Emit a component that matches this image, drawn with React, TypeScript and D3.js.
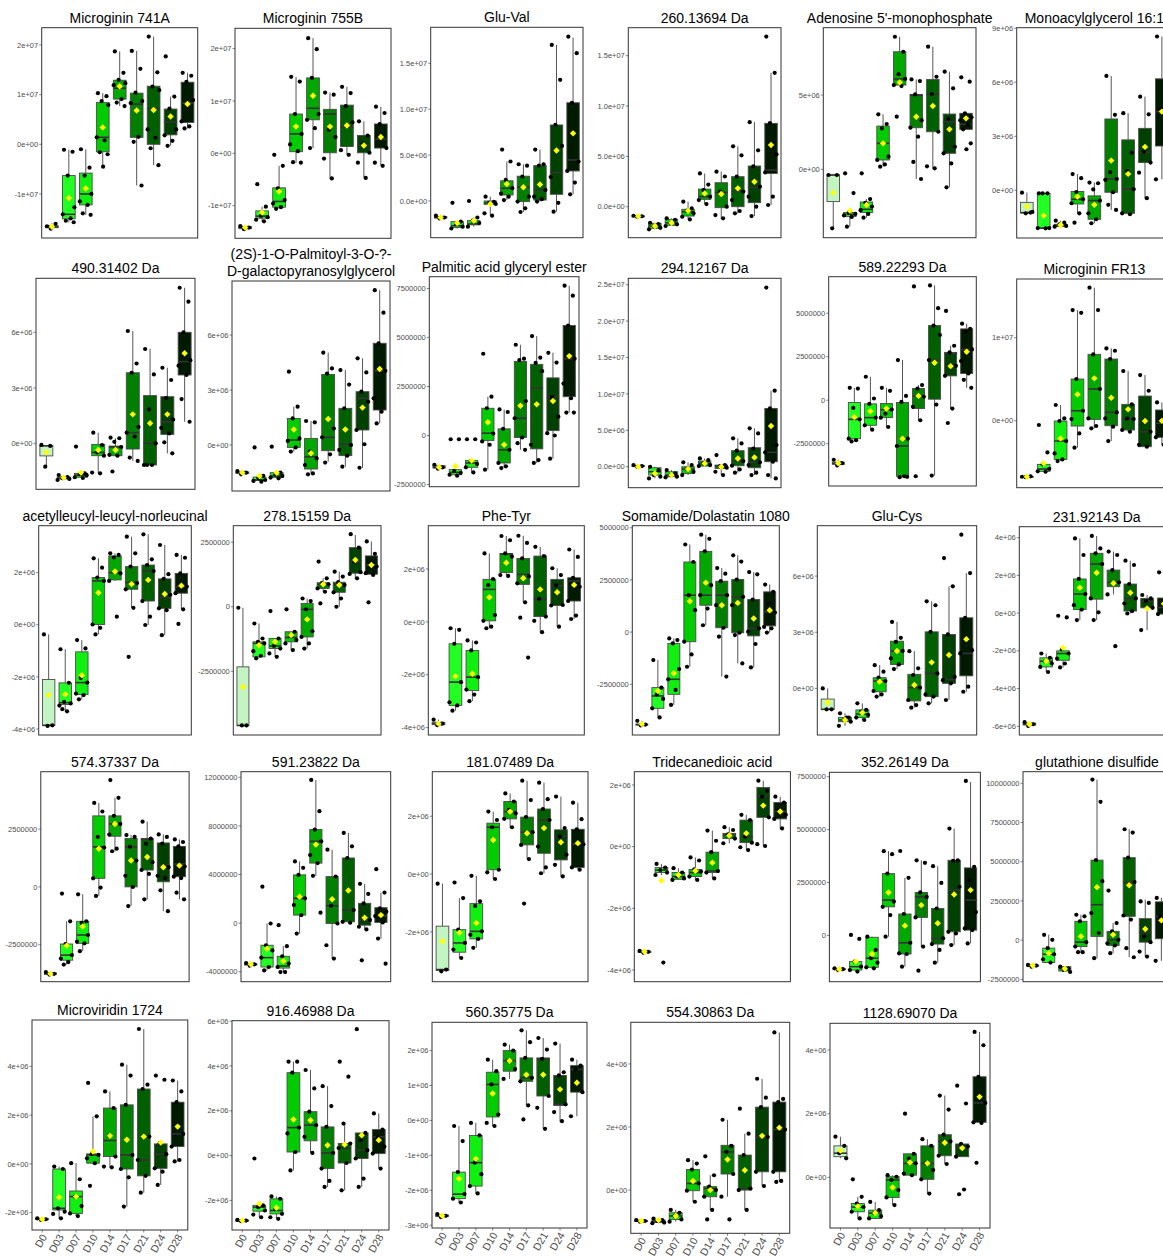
import React from "react";
import * as d3 from "d3";

const GROUPS = ["D0", "D03", "D07", "D10", "D14", "D17", "D21", "D24", "D28"];

const TITLES: string[][] = [
  ["Microginin 741A"], ["Microginin 755B"], ["Glu-Val"], ["260.13694 Da"], ["Adenosine 5'-monophosphate"], ["Monoacylglycerol 16:1"],
  ["490.31402 Da"], ["(2S)-1-O-Palmitoyl-3-O-?-", "D-galactopyranosylglycerol"], ["Palmitic acid glyceryl ester"], ["294.12167 Da"], ["589.22293 Da"], ["Microginin FR13"],
  ["acetylleucyl-leucyl-norleucinal"], ["278.15159 Da"], ["Phe-Tyr"], ["Somamide/Dolastatin 1080"], ["Glu-Cys"], ["231.92143 Da"],
  ["574.37337 Da"], ["591.23822 Da"], ["181.07489 Da"], ["Tridecanedioic acid"], ["352.26149 Da"], ["glutathione disulfide"],
  ["Microviridin 1724"], ["916.46988 Da"], ["560.35775 Da"], ["554.30863 Da"], ["1128.69070 Da"],
];

// y-axis domains (units of 1e6)
const YDOM: number[][] = [
  [-18.87, 23.48], [-16.24, 23.88], [-4.0, 18.92], [-3.08, 17.78], [-4.6, 9.53], [-2.65, 9.03],
  [-2.46, 8.91], [-2.51, 8.95], [-2.61, 8.1], [-2.88, 25.88], [-4.93, 7.1], [-8.07, 17.07],
  [-4.23, 3.8], [-4.97, 3.14], [-4.28, 3.64], [-4.93, 5.1], [-2.49, 8.69], [-6.46, 4.58],
  [-4.1, 4.98], [-4.82, 12.46], [-3.72, 3.54], [-4.38, 2.43], [-2.19, 7.71], [-2.65, 10.74],
  [-2.71, 5.9], [-3.32, 6.02], [-3.08, 2.81], [-1.37, 5.32], [-1.59, 4.84],
];

// y ticks (units of 1e6)
const YTICKS: number[][] = [
  [20, 10, 0, -10], [20, 10, 0, -10], [15, 10, 5, 0], [15, 10, 5, 0], [5, 0], [9, 6, 3, 0],
  [6, 3, 0], [6, 3, 0], [7.5, 5, 2.5, 0, -2.5], [25, 20, 15, 10, 5, 0], [5, 2.5, 0, -2.5], [10, 0],
  [2, 0, -2, -4], [2.5, 0, -2.5], [2, 0, -2, -4], [5, 2.5, 0, -2.5], [6, 3, 0], [4, 2, 0, -2, -4, -6],
  [2.5, 0, -2.5], [12, 8, 4, 0, -4], [2, 0, -2], [2, 0, -2, -4], [7.5, 5, 2.5, 0], [10, 7.5, 5, 2.5, 0, -2.5],
  [4, 2, 0, -2], [6, 4, 2, 0, -2], [2, 1, 0, -1, -2, -3], [4, 2, 0], [4, 2, 0],
];
const YFMT = [
  "e0", "e0", "e1", "e1", "e0", "e0",
  "e0", "e0", "plain", "e1", "plain", "e0",
  "e0", "plain", "e0", "plain", "e0", "e0",
  "plain", "plain", "e0", "e0", "plain", "plain",
  "e0", "e0", "e0", "e0", "e0",
];

// box stats per group: [lowWhisker, q1, median, q3, highWhisker, mean]
const S01 = [[-17.0,-16.8,-16.6,-16.4,-15.9,-16.6],[-15.7,-15.0,-14.1,-6.3,-1.1,-10.8],[-14.2,-12.2,-10.0,-5.8,-1.0,-8.9],[-4.5,-1.5,1.4,8.4,10.3,3.4],[7.7,9.1,11.3,12.9,18.7,11.7],[-8.3,1.4,8.1,10.3,18.8,6.8],[-4.2,0.0,7.2,11.7,21.7,6.9],[-0.3,1.9,4.5,7.1,9.6,5.6],[3.2,4.4,8.3,12.5,14.4,8.1]];
const P01 = [[-16.5,-16.0,-17.0],[-1.1,-1.5,-6.3,-12.7,-14.1,-14.9,-15.4,-15.7],[-1.0,-4.7,-6.3,-10.0,-11.5,-12.2,-13.9,-14.2],[10.3,9.7,8.7,7.9,1.4,0.8,-1.6,-2.0,-4.5],[18.7,14.4,13.0,12.3,11.9,9.1,8.4,7.7],[18.8,15.2,10.4,8.7,8.3,1.5,0.5,-8.3],[21.7,14.5,11.6,10.9,3.0,1.3,-0.8,-4.2],[17.7,9.6,7.2,3.0,1.8,0.7,-0.3],[14.4,13.8,12.6,8.9,4.6,3.6,3.2]];

const S02 = [[-14.5,-14.4,-14.2,-14.0,-13.9,-14.2],[-13.0,-12.4,-12.0,-11.0,-10.2,-11.3],[-10.6,-10.3,-9.2,-6.6,-2.4,-7.3],[-1.8,0.3,3.7,7.5,14.6,5.1],[1.0,6.4,8.6,14.4,22.0,11.0],[-4.8,0.1,7.5,8.4,11.6,5.1],[-0.3,1.3,5.0,9.2,12.7,5.3],[-4.7,0.1,1.5,3.4,6.1,1.5],[-2.4,1.0,2.7,5.6,8.9,3.1]];
const P02 = [[-13.9,-14.2,-14.5],[-5.9,-10.2,-12.0,-12.2,-12.7,-13.0],[-0.3,-2.4,-6.7,-8.9,-9.6,-10.3,-10.6],[14.6,13.7,7.5,3.7,1.7,0.4,-1.7,-1.8],[22.0,19.9,14.4,7.5,6.4,4.8,1.0],[11.6,11.2,4.5,3.1,-1.0,-4.8],[12.7,11.5,9.0,5.9,0.6,-0.3],[6.1,3.4,1.8,0.1,-1.8,-4.7],[8.9,7.7,5.6,1.0,-1.8,-2.4]];

const S03 = [[-1.9,-1.85,-1.8,-1.7,-1.6,-1.8],[-3.0,-2.9,-2.7,-2.25,-2.25,-2.4],[-2.8,-2.6,-2.5,-2.14,-1.8,-2.14],[-1.6,-0.36,-0.25,0.0,0.47,-0.33],[0.1,0.65,1.38,2.2,4.3,1.85],[-1.2,-0.07,1.5,2.7,4.0,1.5],[-0.07,0.1,1.2,3.85,5.6,1.8],[-1.16,0.73,3.1,8.28,17.0,5.5],[0.73,3.27,4.47,10.7,17.8,7.37]];
const P03 = [[-1.6,-1.8,-1.9],[-0.2,-2.25,-2.5,-2.8,-3.0],[0.0,-1.8,-2.14,-2.4,-2.8],[0.47,-0.1,-0.2,-0.33,-1.34,-1.6],[5.6,4.3,2.3,1.4,0.8,0.47,0.1],[4.0,3.85,2.65,0.47,-0.07,-0.8,-1.2],[5.6,4.0,3.85,1.2,0.47,0.2,-0.07],[17.0,13.2,8.3,6.0,2.6,-0.2,-1.16],[17.9,16.1,10.7,4.3,3.27,2.0,0.73]];

const S04 = [[-1.0,-0.97,-0.95,-0.92,-0.9,-0.95],[-2.25,-2.15,-1.92,-1.66,-1.6,-1.92],[-1.92,-1.85,-1.6,-1.26,-1.16,-1.6],[-1.26,-0.93,-0.5,-0.26,0.5,-0.4],[0.26,0.73,1.0,1.75,3.3,1.32],[-1.16,-0.1,1.4,2.38,3.48,1.26],[-0.66,0.0,1.5,2.98,6.0,1.82],[-0.93,0.4,1.92,4.04,8.4,2.48],[0.17,3.3,3.64,8.28,13.3,6.13]];
const P04 = [[-0.9,-0.95,-1.0],[-1.6,-1.72,-1.92,-2.1,-2.25],[-1.16,-1.3,-1.6,-1.75,-1.92],[0.5,-0.17,-0.4,-0.66,-1.0,-1.26],[3.3,2.2,1.65,1.0,0.66,0.26],[3.48,3.0,1.5,0.0,-0.83,-1.16],[6.0,5.1,2.98,1.5,0.66,-0.43,-0.66],[8.4,5.6,4.0,1.99,1.0,0.0,-0.93],[16.9,13.3,8.3,5.2,3.4,1.0,0.17]];

const S05 = [[-3.97,-2.17,-0.38,-0.38,-0.38,-1.57],[-3.86,-3.18,-3.03,-2.9,-2.9,-2.78],[-3.25,-2.9,-2.69,-2.2,-2.0,-2.4],[0.18,0.63,1.75,2.91,3.7,1.75],[5.67,5.67,6.08,7.91,8.92,5.85],[-0.65,2.8,4.98,5.04,6.05,3.54],[0.07,2.53,5.07,6.05,8.25,4.26],[-1.21,1.08,3.2,3.72,6.57,2.69],[2.69,2.69,3.03,3.77,3.77,3.43]];
const P05 = [[-0.38,-0.38,-3.97],[-0.27,-1.6,-2.9,-3.0,-3.1,-3.2,-3.86],[-0.27,-2.0,-2.25,-2.5,-2.75,-3.0,-3.25],[3.7,3.05,2.75,0.85,0.63,0.33,0.18],[8.92,7.91,6.4,6.08,5.67,5.6,3.54],[6.05,5.94,5.04,3.3,2.8,2.2,0.5,-0.65],[8.25,6.23,5.07,2.53,0.2,0.07],[6.57,5.45,3.4,1.52,1.08,0.4,-1.21],[6.19,5.9,3.77,3.5,3.3,3.0,2.69,1.75,1.35]];

const S06 = [[-1.28,-1.26,-1.24,-0.67,-0.13,-0.9],[-2.11,-2.11,-2.1,-0.17,-0.17,-1.41],[-2.02,-2.0,-1.96,-1.89,-1.69,-1.93],[-1.28,-0.76,-0.5,-0.07,0.9,-0.35],[-1.83,-1.61,-0.57,-0.31,0.43,-0.81],[-1.09,-0.11,0.63,3.96,6.35,1.65],[-1.28,-1.28,0.06,2.8,4.28,0.91],[-0.44,1.54,2.11,3.44,5.2,2.41],[0.61,2.46,4.37,6.19,8.54,4.37]];
const P06 = [[-0.13,-1.24,-1.28,-1.2],[-0.17,-0.17,-0.17,-2.1,-2.1,-2.11],[-1.69,-1.8,-1.89,-1.98,-2.02],[0.9,0.67,-0.1,-0.5,-0.72,-1.28,-1.8],[0.43,0.39,0.05,-0.57,-1.28,-1.61,-1.83],[6.35,4.19,1.0,0.63,0.58,-0.11,-0.81,-1.09],[4.28,2.09,1.07,0.06,-1.28,-1.33],[5.2,4.22,2.15,1.54,0.98,-0.44],[8.54,6.2,4.5,2.46,0.61]];

const S07 = [[-1.24,-0.66,-0.12,-0.1,-0.07,-0.47],[-1.96,-1.9,-1.86,-1.8,-1.69,-1.84],[-1.85,-1.81,-1.7,-1.6,-1.6,-1.56],[-1.6,-0.65,-0.47,-0.04,0.59,-0.34],[-0.65,-0.65,-0.18,-0.13,0.29,-0.34],[-0.93,-0.29,0.59,3.82,6.07,1.58],[-1.15,-1.15,0.02,2.59,5.1,1.1],[-0.52,0.5,1.18,2.53,4.09,1.58],[1.18,3.7,4.42,6.0,8.4,4.87]];
const P07 = [[-0.07,-0.12,-1.24],[-1.69,-1.8,-1.86,-1.9,-1.96],[-0.16,-1.6,-1.65,-1.7,-1.81,-1.85],[0.59,-0.08,-0.47,-0.65,-1.56,-1.6],[0.32,0.29,0.1,-0.18,-0.6,-0.65,-1.5],[6.07,4.32,3.82,0.9,0.59,0.38,-0.75,-0.93],[5.1,3.73,1.85,0.02,-1.15,-1.15,-1.15],[4.09,3.43,2.45,1.3,0.85,0.55,0.07,-0.52],[8.4,7.65,6.0,4.5,4.2,3.7,2.4,1.18]];

const S08 = [[-1.6,-1.55,-1.51,-1.47,-1.42,-1.51],[-1.96,-1.93,-1.91,-1.75,-1.69,-1.69],[-1.8,-1.78,-1.69,-1.51,-1.51,-1.51],[-0.36,-0.13,0.27,1.45,2.09,0.85],[-1.55,-1.31,-0.64,0.36,1.31,-0.45],[-0.91,-0.31,0.42,3.85,5.04,1.42],[-1.18,-0.58,0.04,2.0,4.09,0.85],[-1.24,0.82,2.55,2.91,4.73,2.04],[1.18,1.91,4.05,5.55,8.45,4.15]];
const P08 = [[-1.42,-1.51,-1.6],[-0.13,-1.69,-1.8,-1.91,-1.96,-2.0],[-0.09,-1.51,-1.6,-1.69,-1.78,-1.82],[4.0,2.09,1.45,0.36,0.22,-0.13,-0.36],[1.31,1.24,-0.36,-0.73,-1.09,-1.55,-1.6],[5.04,4.18,3.9,0.9,0.42,-0.51,-0.96],[4.09,3.3,2.0,0.0,-0.27,-0.58,-1.18],[4.73,3.96,2.91,2.36,0.82,0.04,-1.24],[8.45,7.22,5.55,4.05,2.55,1.82,1.18]];

const S09 = [[-1.69,-1.66,-1.62,-1.54,-1.49,-1.62],[-2.05,-2.0,-1.88,-1.74,-1.74,-1.57],[-1.88,-1.62,-1.4,-1.27,-1.27,-1.28],[-1.74,-0.25,0.12,1.39,1.98,0.68],[-1.66,-1.4,-0.73,0.34,1.33,-0.47],[-0.73,-0.1,0.88,3.78,4.63,1.52],[-1.4,-0.68,2.43,3.63,5.07,1.59],[-1.18,0.25,1.96,2.94,4.22,1.76],[1.17,1.98,3.92,5.61,7.64,4.05]];
const P09 = [[-1.49,-1.62,-1.69],[-0.19,-0.19,-1.8,-1.9,-2.0,-2.05],[-0.19,-0.19,-1.3,-1.45,-1.62,-1.88],[4.17,1.98,1.39,0.1,-0.3,-0.47,-1.74],[1.33,1.2,0.34,-0.73,-1.4,-1.57,-1.66],[4.63,3.92,3.85,1.76,0.88,-0.1,-0.39,-0.73],[5.07,3.97,3.7,3.28,-0.47,-1.25,-1.4],[4.22,3.72,1.96,0.96,0.12,0.0,-1.18],[7.64,7.13,5.61,3.92,2.65,1.9,1.17,1.17]];

const S10 = [[0.0,0.05,0.09,0.16,0.23,0.0],[-1.6,-1.14,-0.69,-0.14,0.0,-0.92],[-1.46,-1.37,-1.14,-0.69,-0.46,-1.14],[-1.14,-0.92,-0.32,0.0,0.6,-0.32],[0.09,0.09,0.46,0.78,1.14,0.46],[-1.14,-0.23,0.09,0.23,0.23,0.0],[-0.82,0.14,0.78,2.2,3.9,1.14],[-1.14,-0.14,0.6,2.61,5.27,1.28],[-1.6,0.69,1.97,8.01,10.44,5.59]];
const P10 = [[0.23,0.09,0.0],[0.0,-0.46,-1.14,-1.37,-1.6],[-0.46,-0.92,-1.14,-1.37,-1.46],[0.6,0.23,-0.32,-0.69,-1.14],[1.14,0.92,0.46,0.23,0.09],[1.6,0.23,0.09,-0.14,-0.69,-1.14],[3.9,3.2,2.2,0.78,0.14,-0.37,-0.82],[5.27,4.58,2.5,0.6,0.23,-0.82,-1.14],[24.6,10.44,8.01,2.98,1.97,0.69,-1.14,-1.6]];

const S11 = [[-3.75,-3.69,-3.62,-3.56,-3.42,-3.62],[-2.37,-2.21,-1.1,-0.13,0.71,-0.96],[-1.69,-1.44,-1.0,-0.21,1.35,-0.63],[-1.54,-1.0,-0.54,-0.19,0.71,-0.48],[-4.42,-4.37,-2.63,-0.13,2.31,-2.21],[-1.15,-0.48,0.25,0.67,0.87,0.25],[-4.33,0.06,2.31,4.29,6.6,2.15],[-0.48,1.4,2.69,2.75,3.13,1.96],[0.71,1.54,2.92,4.1,4.4,2.79]];
const P11 = [[-3.42,-3.62,-3.75],[0.71,0.67,-0.44,-1.1,-2.21,-2.3,-2.37],[1.35,0.1,-0.21,-1.0,-1.44,-1.69],[0.71,0.54,-0.77,-0.54,-1.0,-1.54],[2.31,0.25,-0.1,-2.21,-2.63,-4.37,-4.42,-4.4],[6.54,0.87,0.67,0.2,-0.38,-1.15,-4.37],[6.6,5.29,4.29,3.75,2.31,-0.25,-4.33],[5.13,3.13,2.75,1.98,1.4,-0.48,-1.31],[4.4,4.1,3.94,2.92,2.25,1.54,1.17,0.71]];

const S12 = [[-6.8,-6.78,-6.75,-6.72,-6.7,-6.75],[-6.14,-6.1,-5.82,-5.26,-5.26,-5.14],[-4.86,-4.66,-2.45,-0.04,1.89,-2.13],[-3.25,-0.64,1.2,5.02,13.33,3.17],[-0.92,0.16,3.82,7.99,16.02,5.1],[-2.45,-0.6,1.0,7.43,8.71,2.77],[-1.33,-1.12,0.2,1.97,5.98,1.37],[-3.13,-3.13,-1.33,2.97,5.5,-0.04],[-2.9,-2.0,-0.3,1.29,2.2,0.0]];
const P12 = [[-6.75,-6.7,-6.8],[-0.52,-3.82,-5.26,-5.8,-6.1,-6.14],[1.89,0.28,-0.04,-2.45,-3.94,-4.66,-4.86],[13.33,13.0,5.02,1.2,0.2,-1.53,-3.25],[16.02,13.33,7.99,3.82,0.28,-0.64,-0.92],[8.71,8.43,7.43,1.0,0.28,-0.72,-2.45],[5.98,1.97,0.28,0.2,-1.12,-1.33],[5.5,3.61,0.0,-1.33,-2.9,-3.13],[2.2,1.29,0.2,-0.44,-2.0,-2.9]];

const S13 = [[-3.88,-3.86,-3.86,-2.1,-0.37,-2.7],[-3.32,-3.06,-2.99,-2.23,-0.94,-2.67],[-2.86,-2.68,-2.22,-1.04,-0.59,-1.94],[-0.37,0.01,1.68,1.81,2.55,1.23],[1.68,1.72,2.0,2.64,2.74,2.04],[0.65,1.36,1.62,2.23,3.38,1.56],[-0.01,0.91,2.06,2.29,3.47,1.72],[-0.4,0.63,1.05,1.76,3.06,1.18],[0.59,1.21,1.46,1.97,2.68,1.5]];
const P13 = [[-0.37,-3.86,-3.88],[-0.94,-2.23,-2.96,-3.02,-3.1,-3.32,-3.24],[-0.59,-0.91,-2.04,-2.22,-2.64,-2.7,-2.86],[2.55,2.19,1.81,1.68,0.01,-0.12,-0.37],[2.74,2.68,2.58,1.97,1.68,0.31],[3.38,2.74,2.23,1.6,1.36,0.65,-1.23],[3.47,2.51,2.29,2.06,0.91,0.31,-0.01],[3.06,1.94,1.76,1.15,0.63,0.56,-0.4],[2.68,2.57,1.97,1.46,1.21,0.59,0.03]];

const S14 = [[-4.6,-4.6,-4.6,-2.33,-0.04,-3.11],[-2.0,-1.94,-1.42,-1.36,-0.65,-1.49],[-1.94,-1.62,-1.52,-1.23,-1.23,-1.36],[-1.68,-1.36,-1.19,-0.97,-0.97,-1.1],[-1.62,-1.17,-0.1,0.13,0.32,-0.49],[0.58,0.71,0.87,0.93,1.1,0.87],[0.0,0.56,0.87,0.95,1.36,0.84],[1.1,1.3,1.75,2.29,2.78,1.81],[1.23,1.26,1.62,1.97,2.53,1.62]];
const P14 = [[-0.04,-4.6,-4.6],[-0.65,-1.23,-1.36,-1.42,-1.72,-1.9,-2.0],[-0.17,-1.23,-1.52,-1.62,-1.81,-1.94],[-0.1,-0.97,-1.1,-1.29,-1.42,-1.68],[0.32,0.22,-0.1,-0.95,-1.17,-1.42,-1.62],[1.75,1.1,0.93,0.87,0.71,0.58,0.13],[1.36,1.17,0.95,0.84,0.56,0.32,0.0],[2.81,2.29,1.75,1.34,1.27,1.1],[2.53,2.05,1.69,1.56,1.3,1.23,0.17]];

const S15 = [[-3.91,-3.89,-3.85,-3.8,-3.7,-3.85],[-3.36,-3.16,-2.28,-0.83,-0.24,-2.06],[-3.0,-2.6,-2.09,-1.08,-0.7,-1.96],[-0.24,0.04,1.23,1.61,2.59,0.93],[1.77,1.87,2.57,2.59,3.25,2.24],[0.74,1.42,1.8,2.4,3.26,1.65],[-0.39,0.2,0.87,2.49,2.84,1.23],[-0.18,0.62,1.37,1.61,2.03,1.12],[0.11,0.79,1.55,1.67,2.74,1.4]];
const P15 = [[-3.7,-3.85,-3.91],[-0.24,-0.3,-0.83,-2.28,-3.04,-3.16,-3.36],[-0.7,-0.78,-1.08,-2.09,-2.56,-2.75,-3.0],[2.59,1.62,1.39,0.26,0.04,-0.18,-0.24],[3.25,3.09,2.59,2.47,1.77,1.74],[3.26,2.99,2.4,1.72,1.46,0.74,0.16,-1.35],[2.84,2.49,0.87,0.2,0.04,-0.39],[2.03,1.77,1.39,0.64,0.62,-0.18],[2.74,2.46,1.67,1.33,0.79,0.24,0.11]];

const S16 = [[-4.47,-4.45,-4.43,-4.41,-4.25,-4.41],[-4.09,-3.65,-3.06,-2.66,-1.34,-2.82],[-3.49,-2.98,-2.26,-0.54,-0.3,-1.97],[-1.66,-0.46,1.77,3.36,4.2,1.48],[0.33,1.29,1.77,3.87,4.67,2.37],[-2.13,0.21,1.77,2.44,3.07,1.29],[-1.5,-0.03,1.69,2.52,3.68,1.4],[-1.69,-0.18,0.18,1.56,2.88,0.65],[-0.02,0.3,0.97,1.93,2.28,1.05]];
const P16 = [[-4.25,-4.43,-4.47],[-1.34,-2.66,-2.98,-3.2,-3.65,-4.09],[-0.3,-0.38,-0.54,-1.77,-2.26,-2.77,-3.49],[4.2,3.36,1.77,1.05,-0.46,-1.07,-1.66],[4.67,4.47,3.87,2.25,1.77,1.13,0.33],[3.07,2.8,2.44,1.77,1.29,0.21,-0.22,-2.13],[3.68,3.38,2.52,1.69,1.29,-0.03,-0.14,-1.5],[2.88,2.77,1.56,0.18,0.02,-0.57,-1.69],[2.28,1.93,1.37,0.94,0.25,0.18,-0.02]];

const S17 = [[-1.12,-1.12,-1.12,-0.57,0.0,-0.75],[-2.0,-1.78,-1.69,-1.56,-1.33,-1.69],[-1.69,-1.56,-1.37,-1.15,-0.8,-1.3],[-0.44,-0.18,0.39,0.57,1.24,0.36],[1.03,1.28,2.0,2.52,3.55,2.0],[-1.03,-0.67,0.04,0.75,1.99,0.18],[-0.8,-0.44,0.8,3.02,4.65,1.39],[-0.62,0.27,0.48,2.88,5.45,1.78],[-0.18,0.67,1.87,3.77,6.16,2.63]];
const P17 = [[0.0,-1.12,-1.12],[-1.33,-1.56,-1.69,-1.78,-2.0,-1.56],[-0.8,-1.15,-1.24,-1.42,-1.56,-1.69],[1.24,0.89,0.57,0.39,-0.14,-0.32,-0.44],[3.55,2.7,2.48,2.0,1.6,1.28,1.03],[1.99,1.07,0.71,0.04,-0.62,-0.89,-1.03],[4.65,4.44,3.02,0.8,-0.32,-0.44,-0.8],[6.96,5.45,2.88,0.62,0.44,0.27,-0.62],[8.21,6.16,3.77,2.04,1.87,0.09,-0.18]];

const S18 = [[-5.98,-5.93,-5.89,-5.83,-5.77,-5.89],[-3.12,-2.85,-2.55,-2.37,-2.14,-2.55],[-2.88,-2.5,-2.14,-2.0,-1.91,-1.84],[-0.37,0.19,1.01,1.81,3.96,1.35],[-0.37,0.74,2.6,3.17,4.09,2.14],[0.99,1.4,1.63,2.28,3.26,1.58],[-0.02,0.11,0.78,1.54,2.78,1.08],[-0.9,0.28,0.64,0.78,0.96,0.25],[-0.16,-0.05,0.3,0.8,2.16,0.5]];
const P18 = [[-5.77,-5.89,-5.98],[-2.14,-2.37,-2.55,-2.67,-2.85,-3.12],[-0.14,-0.23,-1.91,-2.14,-2.41,-2.67,-2.88],[3.96,3.08,1.81,1.01,0.42,0.19,-0.37],[4.09,3.43,3.17,2.6,0.78,0.04,-0.37],[3.26,3.08,2.28,1.63,0.99,-1.75],[2.78,2.55,1.54,0.78,0.51,0.11,-0.02],[0.96,0.78,0.64,0.28,-0.9],[2.16,0.8,0.5,0.2,-0.05,-0.16]];

const S19 = [[-3.79,-3.78,-3.76,-3.72,-3.68,-3.76],[-3.36,-3.17,-2.95,-2.47,-1.49,-2.54],[-2.78,-2.44,-2.08,-1.49,-0.32,-1.71],[-0.39,0.37,1.73,3.07,3.63,1.65],[1.54,2.19,2.72,3.07,3.85,2.72],[-0.83,0.0,1.73,2.09,2.24,1.14],[-0.54,0.73,2.06,2.09,2.82,1.29],[-1.05,0.22,0.92,1.9,2.27,0.85],[-0.54,0.44,0.99,1.75,2.05,0.92]];
const P19 = [[-3.68,-3.76,-3.79],[-0.29,-1.49,-2.47,-2.95,-3.1,-3.25,-3.36],[-0.32,-1.49,-1.56,-2.08,-2.37,-2.44,-2.78],[3.63,3.26,2.16,1.7,0.37,-0.03,-0.39],[4.62,3.85,3.07,2.72,2.26,1.65,1.54],[2.24,2.16,1.73,1.14,0.48,0.0,-0.83],[2.82,2.09,1.87,1.07,0.73,0.56,-0.54],[2.27,2.16,1.87,0.85,0.48,0.38,-0.15,-1.05],[2.05,1.94,1.75,0.88,0.44,0.38,-0.25,-0.54]];

const S20 = [[-3.5,-3.45,-3.39,-3.34,-3.28,-3.39],[-3.89,-3.61,-2.84,-1.82,-0.03,-2.1],[-4.03,-3.7,-3.53,-2.73,-1.9,-3.12],[-0.86,0.66,2.04,3.97,5.08,2.18],[3.89,4.94,6.73,7.7,11.78,6.46],[-2.92,-0.03,1.43,3.83,6.04,1.96],[0.03,0.11,1.08,5.36,7.42,2.68],[-0.52,-0.17,0.25,1.63,3.23,0.44],[-1.27,0.06,0.58,1.27,2.51,0.66]];
const P20 = [[-3.28,-3.39,-3.5],[3.0,-0.03,-1.82,-2.25,-2.84,-3.61,-3.89],[-0.17,-1.9,-2.73,-3.33,-3.61,-4.03,-4.03],[5.08,4.55,3.97,2.04,1.49,0.66,-0.86],[11.78,9.21,7.7,6.73,5.6,4.94,3.89,0.86],[6.04,3.83,1.43,-0.03,-1.82,-2.92],[7.42,6.32,5.36,1.08,0.11,0.03],[3.23,2.4,1.63,0.25,-0.3,-0.52,-3.06],[4.44,2.51,1.22,0.94,0.58,0.06,-1.27,-3.34]];

const S21 = [[-3.36,-3.33,-3.3,-1.8,-0.33,-2.32],[-2.9,-2.7,-2.38,-1.92,-0.83,-2.03],[-2.55,-2.24,-1.98,-1.02,-0.06,-1.69],[-0.17,0.15,1.62,1.76,2.16,1.18],[1.62,1.91,2.16,2.51,2.79,2.16],[0.52,1.01,1.45,1.97,3.23,1.41],[0.03,0.72,1.87,2.25,3.16,1.59],[-0.08,0.49,1.3,1.53,2.68,1.1],[0.15,0.23,1.03,1.55,2.47,1.07]];
const P21 = [[-0.33,-3.3,-3.36],[-0.29,-0.83,-1.92,-2.38,-2.61,-2.9],[-0.06,-0.94,-1.1,-1.98,-2.1,-2.24,-2.55],[2.16,1.87,1.62,0.15,0.06,-0.17],[2.79,2.51,2.22,2.1,1.91,1.62],[3.23,2.56,1.97,1.45,1.01,0.52,-1.02],[3.16,2.59,2.25,1.87,0.95,0.23,0.03],[2.68,1.59,1.3,0.67,0.32,-0.08],[2.47,1.9,1.55,1.03,0.23,0.15]];

const S22 = [[-3.44,-3.43,-3.41,-3.39,-3.38,-3.41],[-0.92,-0.84,-0.76,-0.68,-0.56,-1.1],[-1.08,-1.06,-0.97,-0.84,-0.7,-0.92],[-1.08,-0.97,-0.84,-0.74,-0.35,-0.78],[-1.03,-0.84,-0.79,-0.18,0.52,-0.52],[0.11,0.26,0.38,0.43,0.63,0.36],[-0.11,0.13,0.32,0.86,1.03,0.43],[0.02,0.95,1.64,1.92,2.14,1.33],[0.59,0.9,1.14,1.43,1.62,1.14]];
const P22 = [[-3.38,-3.41,-3.44],[-0.56,-0.68,-0.76,-0.84,-0.92,-3.76],[-0.7,-0.84,-0.97,-1.03,-1.08],[-0.35,-0.45,-0.74,-0.81,-0.97,-1.08],[0.52,0.19,-0.18,-0.79,-0.84,-1.03],[0.63,0.54,0.4,0.26,0.11],[1.03,0.86,0.32,0.13,-0.02,-0.11],[2.14,1.81,1.62,0.95,0.08,0.02],[1.62,1.43,1.19,1.03,0.9,0.59]];

const S23 = [[-1.64,-1.62,-1.6,-1.58,-1.56,-1.6],[-1.71,-1.64,-1.48,-1.24,-1.24,-1.24],[-1.56,-1.51,-1.08,-0.09,-0.06,-0.88],[-0.06,1.35,1.67,2.92,3.98,2.03],[-1.48,-0.88,-0.35,1.01,2.72,0.46],[-0.53,0.85,1.82,2.03,3.55,1.43],[-1.29,-0.41,-0.14,1.27,3.27,0.57],[-0.46,0.17,2.14,3.55,5.05,1.93],[-0.38,0.25,1.67,3.19,7.25,2.14]];
const P23 = [[-1.56,-1.6,-1.64],[0.02,-0.17,-1.24,-1.48,-1.64,-1.71],[-0.06,-0.69,-1.08,-1.29,-1.51,-1.56],[3.98,3.84,2.92,1.6,1.35,0.96,-0.06],[3.99,2.72,1.01,-0.35,-0.85,-0.88,-1.48],[3.55,3.43,2.03,1.82,0.85,-0.53,-1.67],[3.27,2.48,1.27,-0.14,-0.41,-0.69,-1.29],[5.05,3.55,3.52,2.3,0.17,0.09,-0.46],[7.3,3.24,2.6,1.1,0.33,0.25,-0.38]];

const S24 = [[-1.69,-1.66,-1.62,-1.6,-1.58,-1.62],[-1.43,-1.43,-0.9,-0.51,0.34,-0.83],[-2.03,-1.97,-1.82,-1.69,-1.69,-1.82],[-0.77,-0.41,-0.13,1.2,1.62,0.24],[-1.15,0.24,2.26,5.1,10.24,3.38],[-0.83,-0.34,0.02,0.56,1.09,0.34],[-1.09,1.52,3.7,5.26,7.07,3.5],[-1.05,-0.13,0.49,1.37,2.59,0.71],[-1.32,0.09,1.52,2.44,2.69,1.26]];
const P24 = [[-1.58,-1.62,-1.69],[0.34,0.02,-0.51,-0.9,-1.22,-1.43],[-1.69,-1.82,-1.9,-2.03],[1.62,1.52,1.2,-0.13,-0.41,-0.77,-0.77],[10.24,8.82,5.1,3.76,1.73,0.45,-1.15],[3.16,1.09,0.56,0.02,-0.2,-0.34,-0.83],[7.07,6.86,5.26,3.7,1.57,1.31,-0.51,-1.09],[2.47,2.37,0.24,-0.13,-0.73,-1.05],[2.69,2.44,1.52,0.09,-1.32]];

const S25 = [[-2.3,-2.28,-2.27,-2.25,-2.23,-2.27],[-2.23,-1.89,-1.82,-0.21,-0.11,-1.37],[-2.14,-2.03,-1.34,-1.11,0.03,-1.34],[0.03,0.03,0.37,0.41,1.95,0.51],[-0.14,0.3,0.96,2.29,2.97,1.15],[-1.75,-0.21,0.37,2.42,4.07,0.99],[-1.18,-0.49,0.16,3.07,5.53,1.12],[-0.86,-0.18,0.4,0.82,0.85,0.88],[0.1,0.71,1.23,2.53,3.42,1.53]];
const P25 = [[-2.23,-2.27,-2.3],[-0.11,-0.21,-1.82,-1.96,-2.05,-2.23],[0.03,-0.63,-1.34,-1.73,-2.03,-2.14],[3.32,1.95,0.41,0.37,0.23,0.03,-0.9],[2.97,2.29,1.15,0.3,-0.11,-0.14],[4.07,3.62,2.42,0.37,-0.21,-0.55,-1.75],[5.53,3.25,3.07,1.12,0.16,-0.49,-1.18],[3.62,3.45,0.85,0.4,-0.18,-0.32,-0.86],[3.42,2.97,2.53,1.23,0.71,0.16,0.1]];

const S26 = [[-2.93,-2.92,-2.9,-2.88,-2.87,-2.9],[-2.75,-2.48,-2.3,-2.22,-2.22,-2.15],[-2.82,-2.6,-2.45,-1.93,-1.82,-2.33],[-0.66,0.16,1.25,3.7,4.19,1.61],[0.12,0.66,1.36,1.96,3.82,1.58],[-1.4,-0.58,0.12,1.28,3.1,0.46],[-1.55,-0.33,0.34,0.54,1.43,0.49],[-1.4,-0.13,0.24,1.01,1.01,0.91],[-0.58,0.09,0.84,1.16,1.88,0.69]];
const P26 = [[-2.87,-2.9,-2.93],[-0.13,-2.22,-2.3,-2.45,-2.63,-2.75],[-1.82,-1.93,-2.37,-2.6,-2.75,-2.82],[4.19,4.19,3.7,1.25,0.99,0.16,-0.66],[3.82,3.0,1.96,1.36,0.84,0.12],[3.1,2.21,1.28,0.12,-0.58,-1.13,-1.4],[4.19,3.52,1.43,0.54,0.34,-0.33,-1.55],[5.64,1.01,0.69,0.24,-0.13,-1.03,-1.4],[1.88,1.16,0.84,0.4,0.09,-0.58]];

const S27 = [[-2.77,-2.75,-2.73,-2.71,-2.68,-2.73],[-2.35,-2.24,-2.11,-1.48,-0.16,-1.67],[-2.09,-1.88,-1.21,-0.43,-0.07,-1.1],[-0.16,0.1,1.03,1.38,1.74,0.77],[1.19,1.41,1.71,2.0,2.17,1.71],[0.43,1.12,1.22,1.79,2.58,1.31],[-0.24,0.7,1.76,1.79,2.36,1.31],[-0.02,0.43,0.46,1.29,2.2,0.89],[0.12,0.81,1.46,1.57,1.74,1.08]];
const P27 = [[-2.68,-2.73,-2.77],[-0.16,-0.59,-1.48,-2.11,-2.24,-2.35],[-0.07,-0.43,-1.21,-1.54,-1.88,-2.09],[1.74,1.41,1.03,0.17,-0.07,-0.16],[2.17,2.0,1.71,1.47,1.19],[2.58,2.24,1.79,1.22,1.12,0.43,0.03],[2.36,2.03,1.76,0.7,0.36,-0.24],[2.2,1.38,1.29,0.46,0.24,-0.02],[1.74,1.57,1.46,0.81,0.12]];

const S28 = [[-1.0,-0.99,-0.98,-0.97,-0.95,-0.98],[-1.05,-1.03,-0.98,-0.95,-0.9,-0.95],[-1.0,-0.93,-0.82,-0.72,-0.63,-0.82],[-0.37,-0.02,0.21,0.65,0.95,0.29],[-0.63,-0.21,0.05,0.11,0.47,0.0],[-0.21,0.51,1.21,1.42,2.23,0.97],[-0.63,0.0,0.05,1.11,1.79,0.63],[0.13,0.58,1.68,2.63,3.53,1.72],[0.26,0.58,1.92,2.79,5.0,1.98]];
const P28 = [[-0.95,-0.98,-1.0],[-0.9,-0.95,-0.98,-1.03,-1.05],[-0.63,-0.72,-0.82,-0.93,-1.0],[0.95,0.84,0.65,0.21,-0.02,-0.37],[1.07,0.47,0.11,0.0,-0.21,-0.63,-0.93],[2.23,1.4,1.21,0.51,-0.21,-0.93],[2.58,1.79,1.11,0.05,0.0,-0.63],[3.53,2.93,2.63,1.68,0.58,0.13],[5.0,2.89,2.79,1.92,0.58,0.29,0.26]];

const S29 = [[0.6,0.65,0.76,0.99,1.28,0.84],[-1.29,-1.08,-0.93,-0.82,-0.61,-0.91],[-1.29,-1.29,-1.12,-1.03,-0.77,-1.12],[-0.87,-0.63,-0.08,0.02,0.07,-0.32],[0.07,0.07,0.44,0.74,0.74,0.47],[-0.51,-0.06,0.44,0.99,1.2,0.44],[0.42,0.68,1.13,1.34,2.57,1.09],[0.65,0.65,0.97,1.05,1.05,0.92],[1.71,1.73,2.34,3.16,4.57,2.53]];
const P29 = [[1.28,0.99,0.76,0.6],[-0.06,-0.61,-0.82,-0.93,-1.08,-1.29],[-0.77,-1.03,-1.12,-1.22,-1.29],[0.07,0.02,-0.08,-0.4,-0.63,-0.87],[2.0,0.74,0.6,0.44,0.12,0.07],[1.2,0.99,0.44,0.23,-0.06,-0.51],[2.57,2.13,1.34,1.13,0.68,0.42],[2.88,2.32,1.05,0.97,0.65,-0.38,-0.53],[4.57,4.15,3.16,2.34,1.73,1.71,0.46]];

const STATS = [S01,S02,S03,S04,S05,S06,S07,S08,S09,S10,S11,S12,S13,S14,S15,S16,S17,S18,S19,S20,S21,S22,S23,S24,S25,S26,S27,S28,S29];
const POINTS = [P01,P02,P03,P04,P05,P06,P07,P08,P09,P10,P11,P12,P13,P14,P15,P16,P17,P18,P19,P20,P21,P22,P23,P24,P25,P26,P27,P28,P29];

// ---- layout (panel frames in px: x0, y0, x1, y1) ----
const LAYOUT: number[][] = [
  [41.7, 27.7, 197.7, 238], [235, 28.3, 391, 238.3], [430.7, 27.3, 583, 237.7], [628.3, 27.7, 781, 237.7], [823.3, 27.7, 976, 237.7], [1016.7, 27.7, 1172, 238],
  [36, 278.3, 195, 489.3], [232, 281, 390, 491], [429.3, 276.7, 579, 486.7], [628.3, 278.3, 781, 487.7], [828.7, 276.7, 976.3, 486], [1016.7, 279, 1172, 487.7],
  [38.7, 525.7, 191.3, 735], [233.3, 525.7, 381, 735], [428.3, 525.7, 584.3, 735], [632.3, 525.7, 779.3, 735], [817.3, 525.7, 976.7, 735], [1019.3, 526.7, 1174, 735],
  [40.8, 771.7, 189.1, 981.7], [241, 771.7, 390.7, 981.7], [432.3, 771.7, 588, 981.7], [634.3, 771.7, 790.4, 981.7], [829.4, 772.3, 980.4, 981.7], [1023, 771.7, 1171, 981.7],
  [32, 1020, 187.8, 1230], [232, 1020.7, 389, 1230], [432, 1022.3, 587, 1228], [630.8, 1022.3, 789.7, 1233.3], [830, 1023.3, 990, 1228],
];

const FILLS = ["#c3f5c3", "#22ff22", "#10f010", "#00cc00", "#00a800", "#007f00", "#006000", "#004000", "#001a00"];
const JITTER = [-0.26, 0.2, -0.06, 0.3, -0.32, 0.1, -0.16, 0.26, 0.02];
const FONT = "'Liberation Sans', Arial, Helvetica, sans-serif";

function fmtTick(v: number, kind: string): string {
  const val = v * 1e6;
  if (kind === "plain") return String(Math.round(val));
  const digits = kind === "e1" ? 1 : 0;
  if (val === 0) return (digits ? "0.0" : "0") + "e+00";
  const e = Math.floor(Math.log10(Math.abs(val)) + 1e-9);
  const m = val / Math.pow(10, e);
  return m.toFixed(digits) + "e" + (e < 0 ? "-" : "+") + String(Math.abs(e)).padStart(2, "0");
}

function Panel({ idx }: { idx: number }) {
  const [x0, y0, x1, y1] = LAYOUT[idx];
  const stats = STATS[idx];
  const pts = POINTS[idx];
  const x = d3.scaleLinear().domain([0.4, 9.6]).range([x0, x1]);
  const y = d3.scaleLinear().domain(YDOM[idx]).range([y1, y0]);
  const unit = x(1) - x(0);
  const bw = 0.75 * unit;
  const title = TITLES[idx];
  const cx = (x0 + x1) / 2;
  const showX = idx >= 24;
  const dia = (px: number, py: number, r: number) => `M${px},${py - r}L${px + r},${py}L${px},${py + r}L${px - r},${py}Z`;
  return (
    <g>
      <rect x={x0} y={y0} width={x1 - x0} height={y1 - y0} fill="#ffffff" stroke="#333333" strokeWidth={1} />
      {title.map((t, i) => (
        <text key={i} x={cx} y={y0 - 5 - (title.length - 1 - i) * 17} textAnchor="middle" fontFamily={FONT} fontSize={14} fill="#000">{t}</text>
      ))}
      {YTICKS[idx].map((v) => (
        <g key={v}>
          <line x1={x0 - 2.5} x2={x0} y1={y(v)} y2={y(v)} stroke="#333" strokeWidth={0.6} />
          <text x={x0 - 3.5} y={y(v)} dy="0.35em" textAnchor="end" fontFamily={FONT} fontSize={7.5} fill="#4d4d4d">{fmtTick(v, YFMT[idx])}</text>
        </g>
      ))}
      {stats.map((s, g) => {
        const gx = x(g + 1);
        const [lo, q1, med, q3, hi] = s;
        return (
          <g key={g}>
            <line x1={gx} x2={gx} y1={y(hi)} y2={y(q3)} stroke="#444" strokeWidth={0.9} />
            <line x1={gx} x2={gx} y1={y(q1)} y2={y(lo)} stroke="#444" strokeWidth={0.9} />
            <rect x={gx - bw / 2} y={y(q3)} width={bw} height={Math.max(0.8, y(q1) - y(q3))} fill={FILLS[g]} stroke="#4a4a4a" strokeWidth={0.9} />
            <line x1={gx - bw / 2} x2={gx + bw / 2} y1={y(med)} y2={y(med)} stroke="#333" strokeWidth={1.6} />
          </g>
        );
      })}
      {pts.map((arr, g) =>
        arr.map((v, k) => (
          <circle key={`${g}-${k}`} cx={x(g + 1 + JITTER[k % JITTER.length] * 1.1)} cy={y(v)} r={2.1} fill="#000" />
        ))
      )}
      {stats.map((s, g) => (
        <path key={`m${g}`} d={dia(x(g + 1), y(s[5]), 3.2)} fill="#ffff00" />
      ))}
      {showX &&
        GROUPS.map((lab, g) => (
          <g key={lab}>
            <line x1={x(g + 1)} x2={x(g + 1)} y1={y1} y2={y1 + 2.5} stroke="#333" strokeWidth={0.6} />
            <text transform={`translate(${x(g + 1) + 2},${y1 + 5}) rotate(-60)`} dy="0.35em" textAnchor="end" fontFamily={FONT} fontSize={10.5} fill="#4d4d4d">{lab}</text>
          </g>
        ))}
    </g>
  );
}

export default function App() {
  return (
    <svg width={1163} height={1256} style={{ position: "absolute", left: 0, top: 0, background: "#fff" }}>
      <rect x={0} y={0} width={1163} height={1256} fill="#fff" />
      {LAYOUT.map((_, i) => (
        <Panel key={i} idx={i} />
      ))}
    </svg>
  );
}
